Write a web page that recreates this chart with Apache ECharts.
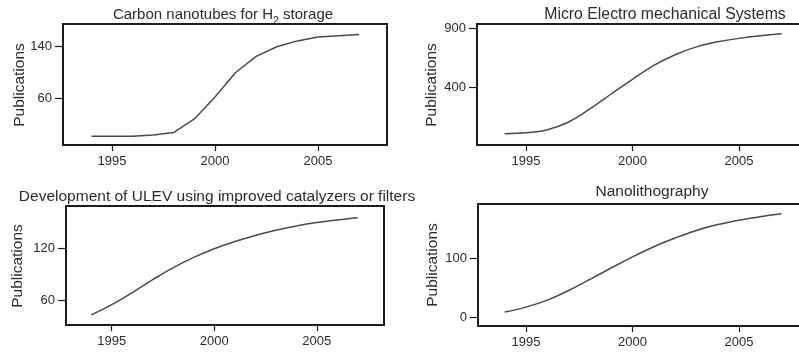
<!DOCTYPE html>
<html>
<head>
<meta charset="utf-8">
<script src="https://cdn.jsdelivr.net/npm/echarts@6/dist/echarts.min.js"></script>
<style>
html,body{margin:0;padding:0;background:#fff;}
#c{width:799px;height:354px;}
</style>
</head>
<body>
<div id="c"></div>
<script>
var years = [1994,1995,1996,1997,1998,1999,2000,2001,2002,2003,2004,2005,2006,2007];
var xTicks = [1995, 2000, 2005];

var carbonH2 = [1, 1, 1, 3, 7, 28, 62, 100, 125, 140, 149, 155, 157, 159];
var mems = [0, 7, 34, 100, 212, 340, 466, 585, 677, 744, 788, 817, 839, 856];
var ulev = [43, 55, 69, 84, 98, 110, 120, 128.5, 135.5, 141.5, 146.5, 150.5, 153.5, 156];
var nanolitho = [8.6, 17, 29, 45.5, 64.5, 84, 103, 120.5, 135.5, 148.5, 158.5, 166, 172, 177];

var yTicks1 = [60, 140];
var yTicks2 = [400, 900];
var yTicks3 = [60, 120];
var yTicks4 = [0, 100];

var titles = ['{a|Carbon nanotubes for H}{s|2}{a| storage}', 'Micro Electro mechanical Systems',
  'Development of ULEV using improved catalyzers or filters', 'Nanolithography'];
var yName = 'Publications';

var FONT = "'Liberation Sans', Arial, Helvetica, sans-serif";
var TXT = '#2a2a33';

function pairs(vals){ return years.map(function(y,i){ return [y, vals[i]]; }); }

var grids = [
  {left: 63, top: 24, width: 324, height: 121},
  {left: 477, top: 24, width: 353, height: 121},
  {left: 66, top: 206, width: 318, height: 119},
  {left: 478, top: 204, width: 353, height: 122}
];
var xRanges = [[1992.62, 2008.35],[1992.70, 2009.27],[1992.77, 2008.28],[1992.75, 2009.32]];
var yRanges = [[-12.4, 175.2],[-97.4, 940.3],[31.3, 169.7],[-15.4, 193.8]];
var yTickSets = [yTicks1, yTicks2, yTicks3, yTicks4];
var seriesData = [carbonH2, mems, ulev, nanolitho];

var option = {
  animation: false,
  backgroundColor: '#fff',
  grid: grids.map(function(g){ return Object.assign({show: true, borderColor: '#1c1c1c', borderWidth: 2, backgroundColor: 'transparent', containLabel: false, outerBoundsMode: 'none'}, g); }),
  xAxis: grids.map(function(g, i){
    return {
      type: 'value', gridIndex: i, min: xRanges[i][0], max: xRanges[i][1],
      axisLine: {show: false, onZero: false},
      splitLine: {show: false},
      axisTick: {show: true, length: 6, lineStyle: {color: '#1c1c1c', width: 1.2}, customValues: xTicks},
      axisLabel: {show: true, margin: 10, fontSize: 13, fontFamily: FONT, color: TXT, customValues: xTicks,
        formatter: function(v){ return String(v); }}
    };
  }),
  yAxis: grids.map(function(g, i){
    return {
      type: 'value', gridIndex: i, min: yRanges[i][0], max: yRanges[i][1],
      axisLine: {show: false, onZero: false},
      splitLine: {show: false},
      axisTick: {show: true, length: 8, lineStyle: {color: '#1c1c1c', width: 1.2}, customValues: yTickSets[i]},
      axisLabel: {show: true, margin: 11, fontSize: 13, fontFamily: FONT, color: TXT, customValues: yTickSets[i],
        formatter: function(v){ return String(v); }}
    };
  }),
  series: seriesData.map(function(d, i){
    return {
      type: 'line', xAxisIndex: i, yAxisIndex: i, data: pairs(d),
      showSymbol: false, smooth: i === 0 ? false : 0.4,
      lineStyle: {color: '#4a4a4a', width: 1.5}
    };
  }),
  graphic: [
    {type: 'text', x: 223, y: 15, style: {text: titles[0], align: 'center', verticalAlign: 'middle', fill: TXT, font: '15px ' + FONT,
      rich: {a: {fontSize: 15, fontFamily: FONT, fill: TXT, lineHeight: 18, verticalAlign: 'middle'},
             s: {fontSize: 10.5, fontFamily: FONT, fill: TXT, lineHeight: 24, verticalAlign: 'bottom'}}}},
    {type: 'text', x: 665, y: 15, style: {text: titles[1], align: 'center', verticalAlign: 'middle', fill: TXT, font: '15.8px ' + FONT}},
    {type: 'text', x: 217, y: 197, style: {text: titles[2], align: 'center', verticalAlign: 'middle', fill: TXT, font: '15.5px ' + FONT}},
    {type: 'text', x: 652, y: 192, style: {text: titles[3], align: 'center', verticalAlign: 'middle', fill: TXT, font: '15.5px ' + FONT}},
    {type: 'text', x: 20, y: 85, rotation: Math.PI/2, style: {text: yName, align: 'center', verticalAlign: 'middle', fill: TXT, font: '15.5px ' + FONT}},
    {type: 'text', x: 432, y: 85, rotation: Math.PI/2, style: {text: yName, align: 'center', verticalAlign: 'middle', fill: TXT, font: '15.5px ' + FONT}},
    {type: 'text', x: 18, y: 266, rotation: Math.PI/2, style: {text: yName, align: 'center', verticalAlign: 'middle', fill: TXT, font: '15.5px ' + FONT}},
    {type: 'text', x: 433, y: 265, rotation: Math.PI/2, style: {text: yName, align: 'center', verticalAlign: 'middle', fill: TXT, font: '15.5px ' + FONT}}
  ]
};

var chart = echarts.init(document.getElementById('c'), null, {renderer: 'canvas'});
chart.setOption(option);
</script>
</body>
</html>
